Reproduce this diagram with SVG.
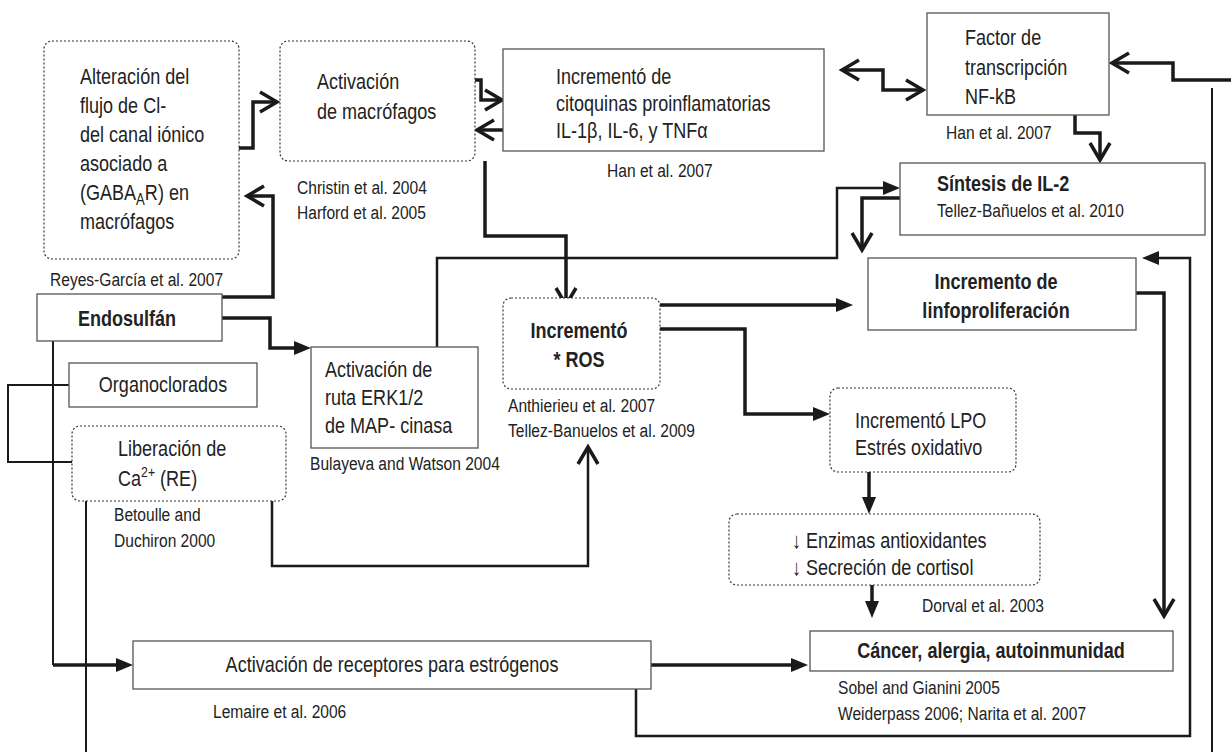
<svg xmlns="http://www.w3.org/2000/svg" width="1231" height="752" viewBox="0 0 1231 752">
<defs>
<style>
text{font-family:"Liberation Sans",Arial,sans-serif;font-size:22px;fill:#222}
.b{font-weight:bold}
.c{font-size:19px}
.mid{text-anchor:middle}
.box{fill:#fff;stroke:#555;stroke-width:1.3}
.dot{fill:#fff;stroke:#333;stroke-width:1.2;stroke-dasharray:2 2}
.k{fill:none;stroke:#1a1a1a;stroke-width:3.5}
.m{fill:none;stroke:#1a1a1a;stroke-width:2.5}
.t{fill:none;stroke:#1a1a1a;stroke-width:2}
.ch{marker-end:url(#chev)}
.tr{marker-end:url(#tri)}
</style>
<marker id="chev" markerUnits="userSpaceOnUse" viewBox="-22 -13 28 26" refX="0" refY="0" markerWidth="28" markerHeight="26" orient="auto-start-reverse" overflow="visible">
<path d="M-17,-10 L0,0 L-17,10" fill="none" stroke="#1a1a1a" stroke-width="3.5"/>
</marker>
<marker id="tri" markerUnits="userSpaceOnUse" viewBox="-14 -10 24 20" refX="0" refY="0" markerWidth="24" markerHeight="20" orient="auto" overflow="visible">
<path d="M-11,-7 L6,0 L-11,7 Z" fill="#1a1a1a"/>
</marker>
</defs>
<rect width="1231" height="752" fill="#fff"/>

<g id="connectors">
<path class="k ch" d="M222,297 H273 V196 H247"/>
<path class="k ch" d="M239,148 H253 V102 H277"/>
<path class="k ch" d="M475,80 H481 V100 H502"/>
<path class="k ch" d="M503,130 H477"/>
<path class="k ch" d="M485,161 V236 H566 V305"/>
<path class="k ch" style="marker-start:url(#chev)" d="M842,70 H883 V90 H923"/>
<path class="k ch" d="M1075,115 V133 H1100 V160"/>
<path class="k ch" d="M1231,80 H1173 V63 H1112"/>
<path class="t" d="M1212,88 V752"/>
<path class="k tr" d="M222,318 H270 V348 H305"/>
<path class="m tr" d="M437,347 V258 H837 V188 H894"/>
<path class="k ch" d="M900,198 H862 V250"/>
<path class="k tr" d="M660,305 H847"/>
<path class="k tr" d="M660,329 H745 V414 H824"/>
<path class="k tr" d="M869,472 V508"/>
<path class="k tr" d="M872,585 V612"/>
<path class="k ch" d="M1136,293 H1164 V616"/>
<path class="m tr" d="M636,689 V736 H1190 V258 H1148"/>
<path class="k tr" d="M651,665 H802"/>
<path class="t" d="M53,341 V665"/>
<path class="k tr" d="M53,665 H127"/>
<path class="t" d="M69,385 H8 V462 H72"/>
<path class="m ch" d="M272,501 V566 H588 V447"/>
<path class="t" d="M86,501 V752"/>
</g>

<g id="alteracion">
<rect class="dot" x="44" y="41" width="195" height="218" rx="8"/>
<g transform="translate(80 0) scale(.82 1)">
<text y="84">Alteración del</text>
<text y="113">flujo de Cl-</text>
<text y="142">del  canal iónico</text>
<text y="171">asociado a</text>
<text y="200">(GABA<tspan font-size="16" dy="5">A</tspan><tspan dy="-5">R) en</tspan></text>
<text y="229">macrófagos</text>
</g>
<text class="c" transform="translate(50 0) scale(.82 1)" y="286">Reyes-García et al. 2007</text>
</g>

<g id="macrofagos">
<rect class="dot" x="280" y="41" width="195" height="120" rx="8"/>
<g transform="translate(317 0) scale(.82 1)">
<text y="89">Activación</text>
<text y="119">de macrófagos</text>
</g>
<g transform="translate(297 0) scale(.82 1)">
<text class="c" y="194">Christin et al. 2004</text>
<text class="c" y="219">Harford et al. 2005</text>
</g>
</g>

<g id="citoquinas">
<rect class="box" x="503" y="49" width="321" height="102"/>
<g transform="translate(556 0) scale(.82 1)">
<text y="84">Incrementó  de</text>
<text y="111">citoquinas proinflamatorias</text>
<text y="138">IL-1β, IL-6, y TNFα</text>
</g>
<text class="c" transform="translate(607 0) scale(.82 1)" y="177">Han et al. 2007</text>
</g>

<g id="nfkb">
<rect class="box" x="927" y="13" width="182" height="102"/>
<g transform="translate(965 0) scale(.82 1)">
<text y="45">Factor de</text>
<text y="75">transcripción</text>
<text y="104">NF-kB</text>
</g>
<text class="c" transform="translate(946 0) scale(.82 1)" y="139">Han et al. 2007</text>
</g>

<g id="il2">
<rect class="box" x="900" y="163" width="305" height="72"/>
<g transform="translate(937 0) scale(.82 1)">
<text class="b" y="191">Síntesis de IL-2</text>
<text class="c" y="217" font-size="20">Tellez-Bañuelos et al. 2010</text>
</g>
</g>

<g id="linfo">
<rect class="box" x="868" y="258" width="268" height="72"/>
<g transform="translate(996 0) scale(.82 1)">
<text class="b mid" y="289">Incremento de</text>
<text class="b mid" y="318">linfoproliferación</text>
</g>
</g>

<g id="endosulfan">
<rect class="box" x="37" y="294" width="185" height="47"/>
<text class="b mid" transform="translate(127 0) scale(.82 1)" y="326">Endosulfán</text>
</g>

<g id="organoclorados">
<rect class="box" x="69" y="363" width="188" height="44"/>
<text class="mid" transform="translate(163 0) scale(.82 1)" y="392">Organoclorados</text>
</g>

<g id="calcio">
<rect class="dot" x="72" y="426" width="214" height="75" rx="8"/>
<g transform="translate(118 0) scale(.82 1)">
<text y="456">Liberación de</text>
<text y="486">Ca<tspan font-size="15" dy="-9">2+</tspan><tspan dy="9"> (RE)</tspan></text>
</g>
<g transform="translate(114 0) scale(.82 1)">
<text class="c" y="521">Betoulle and</text>
<text class="c" y="547">Duchiron 2000</text>
</g>
</g>

<g id="ruta">
<rect class="box" x="311" y="347" width="167" height="101"/>
<g transform="translate(325 0) scale(.82 1)">
<text y="377">Activación de</text>
<text y="405">ruta  ERK1/2</text>
<text y="433">de MAP- cinasa</text>
</g>
<text class="c" transform="translate(310 0) scale(.82 1)" y="470">Bulayeva and Watson 2004</text>
</g>

<g id="ros">
<rect class="dot" x="503" y="298" width="157" height="91" rx="8"/>
<g transform="translate(579 0) scale(.82 1)">
<text class="b mid" y="338">Incrementó</text>
<text class="b mid" y="367">* ROS</text>
</g>
<g transform="translate(508 0) scale(.82 1)">
<text class="c" y="412">Anthierieu et al. 2007</text>
<text class="c" y="437">Tellez-Banuelos et al. 2009</text>
</g>
</g>

<g id="lpo">
<rect class="dot" x="830" y="388" width="186" height="84" rx="8"/>
<g transform="translate(855 0) scale(.82 1)">
<text y="428">Incrementó LPO</text>
<text y="455">Estrés oxidativo</text>
</g>
</g>

<g id="enzimas">
<rect class="dot" x="729" y="514" width="311" height="71" rx="8"/>
<g transform="translate(792 0) scale(.82 1)">
<text y="548">↓ Enzimas antioxidantes</text>
<text y="575">↓ Secreción de cortisol</text>
</g>
<text class="c" transform="translate(922 0) scale(.82 1)" y="612">Dorval et al. 2003</text>
</g>

<g id="receptores">
<rect class="box" x="133" y="641" width="518" height="48"/>
<text class="mid" transform="translate(392 0) scale(.82 1)" y="672">Activación de receptores para estrógenos</text>
<text class="c" transform="translate(213 0) scale(.82 1)" y="718">Lemaire et al. 2006</text>
</g>

<g id="cancer">
<rect class="box" x="810" y="631" width="363" height="40"/>
<text class="b mid" transform="translate(991 0) scale(.82 1)" y="658">Cáncer, alergia, autoinmunidad</text>
<g transform="translate(838 0) scale(.82 1)">
<text class="c" y="694">Sobel and Gianini 2005</text>
<text class="c" y="720">Weiderpass 2006; Narita et al. 2007</text>
</g>
</g>
</svg>
